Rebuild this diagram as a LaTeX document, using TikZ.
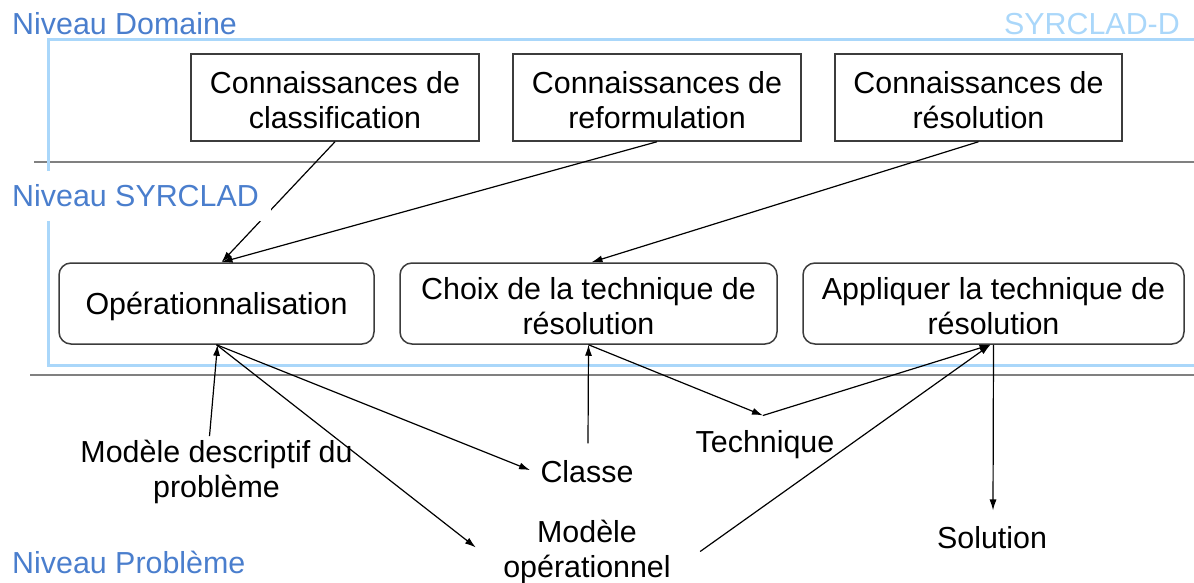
\documentclass[tikz,border=0pt]{standalone}
\usepackage{fontspec}
\setmainfont{Liberation Sans}
\usetikzlibrary{arrows.meta,calc}
\definecolor{lvl}{RGB}{74,126,205}
\definecolor{framec}{RGB}{170,215,250}
\definecolor{sepc}{RGB}{128,128,128}
\definecolor{boxc}{RGB}{60,60,60}
\newcommand\myup{\rule{0pt}{27pt}}
\begin{document}
\begin{tikzpicture}[x=1pt,y=-1pt,
  font=\fontsize{30.4}{35}\selectfont,
  sqbox/.style={draw=boxc, line width=1.5pt, minimum height=87pt, align=center, inner sep=0pt},
  rbox/.style={draw=boxc, line width=1.5pt, rounded corners=12pt, minimum height=81pt, align=center, inner sep=0pt},
  lbl/.style={inner sep=3.3pt, align=center},
  lvltext/.style={text=lvl, inner sep=0pt, anchor=base west},
  arr/.style={-{Latex[length=11pt,width=7pt]}, line width=1.2pt, black}
]
\useasboundingbox (0,0) rectangle (1194,583);
% frame and separators
\draw[sepc, line width=2pt] (34,162) -- (1194,162);
\draw[sepc, line width=2pt] (30,375) -- (1194,375);
\draw[framec, line width=3pt] (1194,40) -- (48,40) -- (48,365) -- (1194,365);

% level labels
\node[lvltext] (ldom) at (12,35) {Niveau Domaine};
\node[text=framec, inner sep=0pt, anchor=base east] (lsyd) at (1180,35) {SYRCLAD-D};
\node[lvltext] (lpb) at (12,573) {Niveau Problème};

% top boxes
\node[sqbox, minimum width=288pt] (k1) at (335,97.5) {\myup Connaissances de\\classification};
\node[sqbox, minimum width=288pt] (k2) at (657,97.5) {\myup Connaissances de\\reformulation};
\node[sqbox, minimum width=287pt] (k3) at (978.5,97.5) {\myup Connaissances de\\résolution};

% middle boxes
\node[rbox, minimum width=315pt, text depth=0pt] (op) at (216.5,303.5) {Opérationnalisation};
\node[rbox, minimum width=377pt] (ch) at (588.5,303.5) {\myup Choix de la technique de\\résolution};
\node[rbox, minimum width=381pt] (ap) at (993.5,303.5) {\myup Appliquer la technique de\\résolution};

% lower labels
\node[lbl] (mdp) at (216.5,471.5) {Modèle descriptif du\\problème};
\node[lbl, anchor=base] (cl) at (587,482) {Classe};
\node[lbl] (mop) at (587,551.5) {Modèle\\opérationnel};
\node[lbl, anchor=base] (te) at (765,452) {Technique};
\node[lbl, anchor=base] (so) at (992,548) {Solution};

% connectors
\draw[arr] (k1.south) -- ($(op.north)+(5,0)$);
\draw[arr] (k2.south) -- ($(op.north)+(5,0)$);
\draw[arr] (k3.south) -- ($(ch.north)+(3,0)$);
\draw[arr] ($(mdp.north)+(-7,0)$) -- ($(op.south)+(1,0)$);
\draw[arr] (op.south) -- ($(cl.west)+(-7,-1)$);
\draw[arr] (op.south) -- ($(mop.west)+(-24,-4)$);
\draw[arr] ($(cl.north)+(1,-13)$) -- (ch.south);
\draw[arr] (ch.south) -- ($(te.north)+(-2,-11)$);
\draw[arr] ($(te.north)+(-2,-11)$) -- ($(ap.south)+(-3,0)$);
\draw[arr] ($(mop.east)+(26,0)$) -- ($(ap.south)+(-3,0)$);
\draw[arr] (ap.south) -- ($(so.north)+(1,-12)$);

% level label that masks lines
\node[fill=white, text=lvl, inner xsep=12pt, inner ysep=0pt, minimum height=50pt, anchor=west] (lsy) at (0,196) {Niveau SYRCLAD};
\end{tikzpicture}
\end{document}
